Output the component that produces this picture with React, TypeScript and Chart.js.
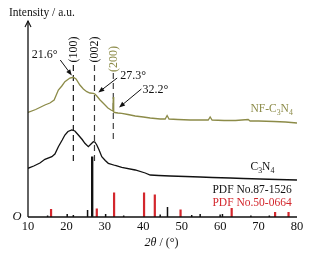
import React, { useEffect, useRef } from "react";
import { Chart, registerables } from "chart.js";

Chart.register(...registerables);

// ---- data (x: 2θ in degrees, y: relative intensity, arbitrary units) ----
const xTicks = [10, 20, 30, 40, 50, 60, 70, 80];

const nfX = [10, 12, 14.4, 15.7, 16.8, 17.9, 18.8, 19.6, 20.9, 21.8, 22.5, 23.5, 24.4, 25.3, 26.1, 27.0, 27.4, 27.9, 28.75, 29.6, 30.8, 31.6, 32.1, 32.2, 32.3, 32.6, 33.4, 34.4, 36, 37.9, 40, 41.8, 44.4, 45.7, 46.2, 46.7, 49, 52.2, 55, 56.9, 57.4, 57.9, 61, 64, 67.3, 67.8, 70, 74, 77, 80];
const nfY = [104.5, 107.5, 112, 114, 117, 127, 131, 135.3, 139, 139.7, 138, 132, 128, 125.3, 124, 123.7, 123, 121, 117, 113.7, 109, 107, 106, 120, 105, 104.5, 104, 103.7, 102.5, 101, 100, 99, 98, 98, 101.5, 98, 97.5, 97, 97, 97, 100, 97, 96.5, 96.5, 97.5, 96, 96, 95.5, 95, 94];

const cnX = [10, 11.5, 13.1, 14.4, 16.2, 17.0, 17.9, 18.9, 19.6, 20.4, 21.4, 22.2, 23.1, 24.1, 24.8, 25.7, 26.4, 27.0, 27.4, 27.9, 28.5, 29.2, 30.1, 30.9, 32.7, 34.4, 37.9, 40.5, 41.8, 44, 47, 51, 54.8, 58, 62.6, 66, 70.4, 75, 80];
const cnY = [48.7, 51, 54, 57.7, 60.3, 63, 70.3, 77, 82, 85.5, 87, 86, 82, 77.5, 73.7, 70.3, 73, 75.3, 75, 72, 67, 60.3, 56.5, 53.7, 51.5, 49.7, 47, 44, 42, 41.5, 41, 40.5, 40, 39.5, 39, 38.5, 38, 37.5, 37];

// PDF No.87-1526 (black sticks)
const pdf87Pos = [15.1, 20.2, 21.8, 25.5, 30.2, 34.9, 44.4, 46.3, 52.6, 54.8, 60.0, 60.6, 68.0, 72.8];
const pdf87Int = [1.5, 3, 2, 7, 3, 1.5, 2.5, 10, 2, 3, 2.5, 3, 1.5, 1.5];
const pdf87MainPos = [26.7];
const pdf87MainInt = [60.5];

// PDF No.50-0664 (red sticks)
const pdf50Pos = [16.0, 27.9, 32.4, 40.2, 43.0, 49.7, 63.0, 74.3, 77.8];
const pdf50Int = [8, 8.5, 24.5, 24.5, 22.5, 7.5, 9, 5, 5];

// peak guides
const peakPos = [21.8, 27.3, 32.2];
const peakLabels = ["(100)", "(002)", "(200)"];
const peakAngles = ["21.6°", "27.3°", "32.2°"];

const OLIVE = "#8c8b48";
const RED = "#d3262c";
const INK = "#111111";
const SERIF = '"Liberation Serif", "Times New Roman", serif';

const pts = (xs: number[], ys: number[]) => xs.map((x, i) => ({ x, y: ys[i] }));

// sticks as vertical segments from 0 to the intensity, separated by gaps
const sticks = (xs: number[], ys: number[]) => {
  const out: { x: number; y: number | null }[] = [];
  xs.forEach((x, i) => {
    out.push({ x, y: 0 }, { x, y: ys[i] }, { x, y: null });
  });
  return out;
};

type Part = { t: string; sub?: boolean; italic?: boolean };

function font(size: number, italic = false) {
  return `${italic ? "italic " : ""}${size}px ${SERIF}`;
}

function drawRich(ctx: CanvasRenderingContext2D, parts: Part[], x: number, y: number, size: number, color: string, align: "left" | "center" = "left") {
  ctx.save();
  ctx.fillStyle = color;
  ctx.textBaseline = "middle";
  ctx.textAlign = "left";
  let total = 0;
  for (const p of parts) {
    ctx.font = font(p.sub ? size * 0.68 : size, p.italic);
    total += ctx.measureText(p.t).width;
  }
  let cx = align === "center" ? x - total / 2 : x;
  for (const p of parts) {
    ctx.font = font(p.sub ? size * 0.68 : size, p.italic);
    ctx.fillText(p.t, cx, p.sub ? y + 3.5 : y);
    cx += ctx.measureText(p.t).width;
  }
  ctx.restore();
}

function drawArrow(ctx: CanvasRenderingContext2D, x1: number, y1: number, x2: number, y2: number) {
  ctx.save();
  ctx.strokeStyle = INK;
  ctx.fillStyle = INK;
  ctx.lineWidth = 1;
  const a = Math.atan2(y2 - y1, x2 - x1);
  const L = 6, W = 2.4;
  ctx.beginPath();
  ctx.moveTo(x1, y1);
  ctx.lineTo(x2 - Math.cos(a) * (L - 1), y2 - Math.sin(a) * (L - 1));
  ctx.stroke();
  ctx.beginPath();
  ctx.moveTo(x2, y2);
  ctx.lineTo(x2 - Math.cos(a) * L + Math.sin(a) * W, y2 - Math.sin(a) * L - Math.cos(a) * W);
  ctx.lineTo(x2 - Math.cos(a) * L - Math.sin(a) * W, y2 - Math.sin(a) * L + Math.cos(a) * W);
  ctx.closePath();
  ctx.fill();
  ctx.restore();
}

const decorPlugin = {
  id: "decor",
  afterDatasetsDraw(chart: any) {
    const ctx: CanvasRenderingContext2D = chart.ctx;
    const xs = chart.scales.x;
    const ys = chart.scales.y;
    const X = (v: number) => xs.getPixelForValue(v);
    const Y = (v: number) => ys.getPixelForValue(v);
    const { left, right, top, bottom } = chart.chartArea;

    // axes
    ctx.save();
    ctx.strokeStyle = INK;
    ctx.lineWidth = 1.3;
    ctx.beginPath();
    ctx.moveTo(left, bottom);
    ctx.lineTo(right, bottom);
    ctx.moveTo(left, bottom);
    ctx.lineTo(left, top - 1);
    ctx.stroke();
    ctx.lineWidth = 1.1;
    ctx.beginPath();
    ctx.moveTo(left - 3, top + 5);
    ctx.lineTo(left, top - 1);
    ctx.lineTo(left + 3, top + 5);
    ctx.stroke();
    ctx.restore();

    // tick labels
    ctx.save();
    ctx.fillStyle = INK;
    ctx.font = font(12.5);
    ctx.textAlign = "center";
    ctx.textBaseline = "middle";
    for (const t of xTicks) ctx.fillText(String(t), X(t), bottom + 10);
    ctx.font = font(12.5, true);
    ctx.fillText("O", left - 11, bottom);
    ctx.restore();

    // axis titles
    drawRich(ctx, [{ t: "2θ", italic: true }, { t: " / (°)" }], (left + right) / 2 - 1, bottom + 26, 12, INK, "center");
    drawRich(ctx, [{ t: "Intensity / a.u." }], 9, 13, 11.5, INK);

    // peak (hkl) labels, rotated
    const labelCenters = [167.5, 167.5, 158];
    const labelColors = [INK, INK, OLIVE];
    peakPos.forEach((p, i) => {
      ctx.save();
      ctx.translate(X(p) + 0.5, Y(labelCenters[i]));
      ctx.rotate(-Math.PI / 2);
      ctx.fillStyle = labelColors[i];
      ctx.font = font(12);
      ctx.textAlign = "center";
      ctx.textBaseline = "middle";
      ctx.fillText(peakLabels[i], 0, 0);
      ctx.restore();
    });

    // angle annotations with arrows
    drawRich(ctx, [{ t: peakAngles[0] }], X(11.0), Y(162), 12, INK);
    drawArrow(ctx, X(18.4), Y(157), X(21.4), Y(141.5));
    drawRich(ctx, [{ t: peakAngles[1] }], X(34.0), Y(141), 12, INK);
    drawArrow(ctx, X(33.2), Y(139), X(28.3), Y(124.5));
    drawRich(ctx, [{ t: peakAngles[2] }], X(39.8), Y(127), 12, INK);
    drawArrow(ctx, X(39.5), Y(128), X(33.7), Y(109.5));

    // series labels
    drawRich(ctx, [{ t: "NF-C" }, { t: "3", sub: true }, { t: "N" }, { t: "4", sub: true }], X(67.9), Y(108), 11.5, OLIVE);
    drawRich(ctx, [{ t: "C" }, { t: "3", sub: true }, { t: "N" }, { t: "4", sub: true }], X(67.9), Y(50), 11.5, INK);
    drawRich(ctx, [{ t: "PDF No.87-1526" }], X(58.0), Y(27), 11.5, INK);
    drawRich(ctx, [{ t: "PDF No.50-0664" }], X(58.0), Y(14), 11.5, RED);
  },
};

export default function App() {
  const ref = useRef<HTMLCanvasElement | null>(null);

  useEffect(() => {
    document.body.style.margin = "0";
    const canvas = ref.current;
    if (!canvas) return;
    const guideTop = [152, 152, 144];
    const guideBottom = [56, 54, 78];
    const guideColor = ["#1a1a1a", "#3a3a3a", "#444444"];

    const stickBase = {
      type: "line" as const,
      pointRadius: 0,
      spanGaps: false,
      tension: 0,
      borderCapStyle: "butt" as const,
      order: 3,
    };

    const chart = new Chart(canvas, {
      type: "line",
      data: {
        datasets: [
          {
            type: "line",
            data: pts(nfX, nfY),
            borderColor: OLIVE,
            borderWidth: 1.3,
            pointRadius: 0,
            tension: 0,
            order: 1,
          },
          {
            type: "line",
            data: pts(cnX, cnY),
            borderColor: INK,
            borderWidth: 1.3,
            pointRadius: 0,
            tension: 0,
            order: 1,
          },
          ...peakPos.map((p, i) => ({
            type: "line" as const,
            data: [
              { x: p, y: guideTop[i] },
              { x: p, y: guideBottom[i] },
            ],
            borderColor: guideColor[i],
            borderWidth: 1.2,
            borderDash: [6, 4],
            pointRadius: 0,
            order: 2,
          })),
          { ...stickBase, data: sticks(pdf87Pos, pdf87Int), borderColor: INK, borderWidth: 1.5 },
          { ...stickBase, data: sticks(pdf87MainPos, pdf87MainInt), borderColor: INK, borderWidth: 2.4 },
          { ...stickBase, data: sticks(pdf50Pos, pdf50Int), borderColor: RED, borderWidth: 2.2 },
        ],
      },
      options: {
        responsive: false,
        animation: false,
        events: [],
        layout: { padding: { left: 28, right: 16, top: 22, bottom: 41 } },
        plugins: {
          legend: { display: false },
          tooltip: { enabled: false },
        },
        scales: {
          x: {
            type: "linear",
            min: 10,
            max: 80,
            offset: false,
            display: false,
          },
          y: {
            type: "linear",
            min: 0,
            max: 195,
            display: false,
          },
        },
      },
      plugins: [decorPlugin],
    } as any);

    return () => chart.destroy();
  }, []);

  return (
    <div style={{ position: "fixed", left: 0, top: 0 }}>
      <canvas ref={ref} width={313} height={258} style={{ display: "block", width: 313, height: 258 }} />
    </div>
  );
}
